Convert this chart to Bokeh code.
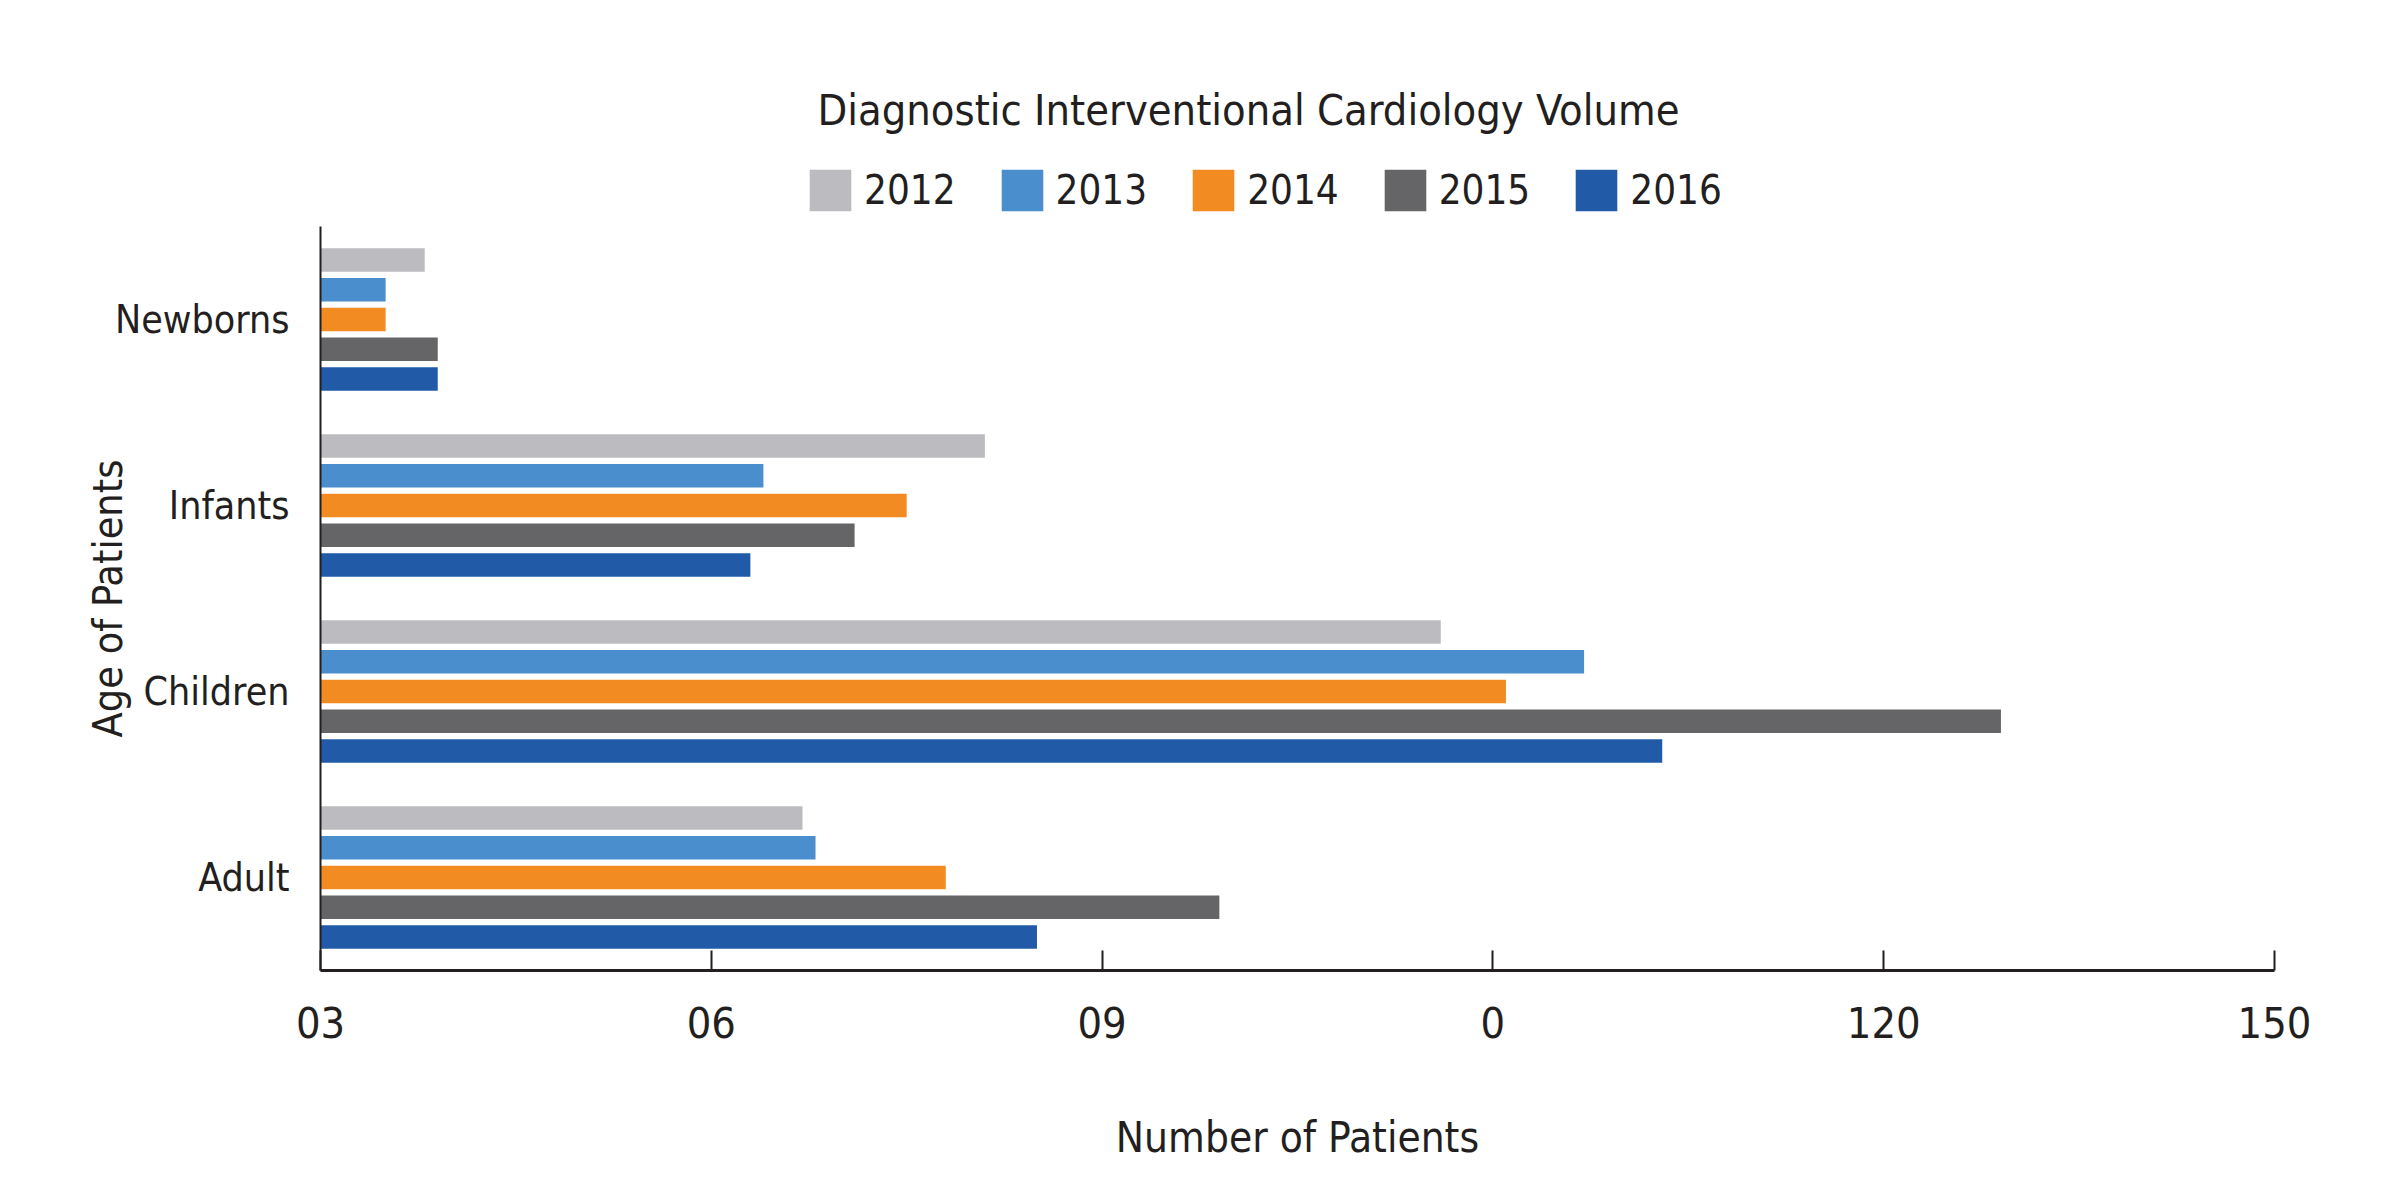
from bokeh.plotting import figure
from bokeh.models import ColumnDataSource, Legend, LegendItem, Label, FixedTicker, Range1d, FactorRange
from bokeh.layouts import column
from bokeh.transform import dodge
from bokeh.embed import file_html
from bokeh.resources import INLINE

categories = ["Newborns", "Infants", "Children", "Adult"]
years = ["2012", "2013", "2014", "2015", "2016"]
v2012 = [8, 51, 86, 37]
v2013 = [5, 34, 97, 38]
v2014 = [5, 45, 91, 48]
v2015 = [9, 41, 129, 69]
v2016 = [9, 33, 103, 55]
colors = ["#bcbcc0", "#4a8ecd", "#f28c22", "#656567", "#215ba8"]
tick_values = [0, 30, 60, 90, 120, 150]
tick_labels = ["03", "06", "09", "0", "120", "150"]
title_text = "Diagnostic Interventional Cardiology Volume"

FONT = "DejaVu Sans Condensed, Roboto"
TXT = "#231f20"
W = 2384
HEAD_H = 226
MAIN_H = 958
BL, BR = 320, 110   # frame borders left/right (pixels)

source = ColumnDataSource(data=dict(cat=categories, v2012=v2012, v2013=v2013,
                                    v2014=v2014, v2015=v2015, v2016=v2016))

# ---------- header: title + legend (frame aligned with main frame) ----------
head = figure(width=W, height=HEAD_H, output_backend="svg", toolbar_location=None,
              x_range=Range1d(BL, W - BR), y_range=Range1d(0, HEAD_H),
              x_axis_type=None, y_axis_type=None,
              min_border_left=BL, min_border_right=BR, min_border_top=0, min_border_bottom=0)
head.outline_line_color = None
head.grid.visible = False

head.add_layout(Label(x=1248, y=117, text=title_text, text_align="center", text_baseline="middle",
                      text_font=FONT, text_font_size="43px", text_color=TXT))

legend_renderers = []
for yr, col in zip(years, colors):
    r = head.hbar(y="v" + yr, right="v" + yr, height=1, source=source,
                  fill_color=col, line_color=None, visible=False)
    legend_renderers.append(r)

legend = Legend(items=[LegendItem(label=yr, renderers=[r]) for yr, r in zip(years, legend_renderers)],
                orientation="horizontal", location=(484, 10),
                glyph_width=52, glyph_height=52, label_standoff=8, spacing=40,
                padding=0, margin=0, border_line_color=None, background_fill_alpha=0,
                inactive_fill_alpha=0,
                label_text_font=FONT, label_text_font_size="40px", label_text_color=TXT,
                label_height=52)
head.add_layout(legend)

# ---------- main chart ----------
p = figure(width=W, height=MAIN_H, output_backend="svg", toolbar_location=None,
           x_range=Range1d(0, 150), y_range=FactorRange(factors=list(reversed(categories)), range_padding=0),
           min_border_left=BL, min_border_right=BR, min_border_top=0, min_border_bottom=214)
p.outline_line_color = None
p.grid.visible = False

bar_h = 0.126
step = 0.16
for i, (yr, col) in enumerate(zip(years, colors)):
    off = (2 - i) * step
    p.hbar(y=dodge("cat", off, range=p.y_range), left=0, right="v" + yr, height=bar_h,
           source=source, fill_color=col, line_color=None)

xa = p.xaxis[0]
xa.ticker = FixedTicker(ticks=tick_values)
xa.major_label_overrides = {t: l for t, l in zip(tick_values, tick_labels)}
xa.major_tick_in = 20
xa.major_tick_out = 0
xa.minor_tick_in = 0
xa.minor_tick_out = 0
xa.axis_line_width = 3
xa.axis_line_color = TXT
xa.major_tick_line_width = 2
xa.major_tick_line_color = TXT
xa.major_label_text_font = FONT
xa.major_label_text_font_size = "43px"
xa.major_label_text_color = TXT
xa.major_label_standoff = 36
xa.axis_label = "Number of Patients"
xa.axis_label_text_font = FONT
xa.axis_label_text_font_size = "42px"
xa.axis_label_text_font_style = "normal"
xa.axis_label_text_color = TXT
xa.axis_label_standoff = 72

ya = p.yaxis[0]
ya.major_tick_in = 0
ya.major_tick_out = 0
ya.minor_tick_in = 0
ya.minor_tick_out = 0
ya.axis_line_width = 2
ya.axis_line_color = TXT
ya.major_label_text_font = FONT
ya.major_label_text_font_size = "39px"
ya.major_label_text_color = TXT
ya.major_label_standoff = 31
ya.axis_label = "Age of Patients"
ya.axis_label_text_font = FONT
ya.axis_label_text_font_size = "41px"
ya.axis_label_text_font_style = "normal"
ya.axis_label_text_color = TXT
ya.axis_label_standoff = -20

layout = column(head, p, spacing=0)
open("out.html", "w").write(file_html(layout, INLINE))
